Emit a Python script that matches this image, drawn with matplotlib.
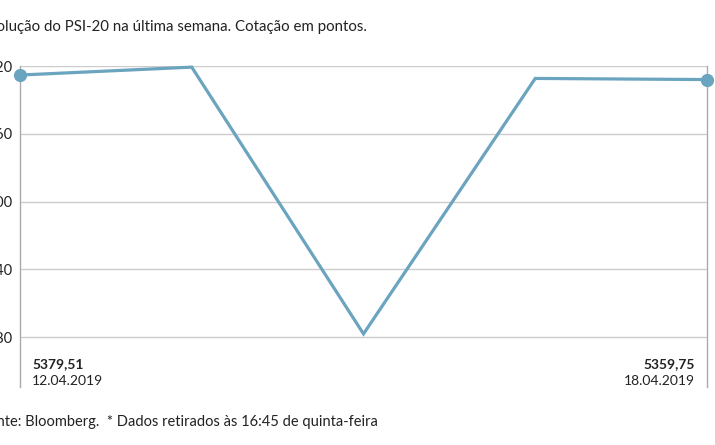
import matplotlib.pyplot as plt

plt.rcParams["font.family"] = ["Lato", "DejaVu Sans"]

# cotação PSI-20
dias = ["12.04.2019", "15.04.2019", "16.04.2019", "17.04.2019", "18.04.2019"]
valores = [5412, 5419, 5183, 5409, 5408]
ticks_y = [5180, 5240, 5300, 5360, 5420]
rotulo_ini = "5379,51"
rotulo_fim = "5359,75"

cor = "#6aa4bf"
W, H = 715, 445

fig = plt.figure(figsize=(7.15, 4.45), dpi=100)
ax = fig.add_axes([20 / W, 1 - 387 / H, 687 / W, 321 / H])

x = list(range(len(valores)))
ax.plot(x, valores, color=cor, lw=2.3, solid_joinstyle="miter", clip_on=False, zorder=3)
ax.plot([x[0], x[-1]], [valores[0], valores[-1]], "o", color=cor, ms=8.5, clip_on=False, zorder=4)

ax.set_xlim(0, len(valores) - 1)
ax.set_ylim(5136, 5420)
ax.set_yticks(ticks_y)
ax.set_yticklabels([str(t) for t in ticks_y])
ax.set_xticks([])
ax.tick_params(axis="y", length=0, pad=5.5, labelsize=10.5, labelcolor="#222222")
ax.grid(axis="y", color="#cccccc", lw=1)
ax.set_axisbelow(True)

for s in ["top", "bottom"]:
    ax.spines[s].set_visible(False)
for s in ["left", "right"]:
    ax.spines[s].set_color("#aaaaaa")
    ax.spines[s].set_linewidth(1)

# rótulos dos extremos
ax.text(12 / 687, 19 / 321, rotulo_ini, transform=ax.transAxes, fontsize=10,
        fontweight="bold", color="#222222", ha="left", va="baseline")
ax.text(12 / 687, 2 / 321, dias[0], transform=ax.transAxes, fontsize=10,
        color="#222222", ha="left", va="baseline")
ax.text(1 - 12 / 687, 19 / 321, rotulo_fim, transform=ax.transAxes, fontsize=10,
        fontweight="bold", color="#222222", ha="right", va="baseline")
ax.text(1 - 12 / 687, 2 / 321, dias[-1], transform=ax.transAxes, fontsize=10,
        color="#222222", ha="right", va="baseline")

fig.text(-20 / W, 1 - 31 / H, "Evolução do PSI-20 na última semana. Cotação em pontos.",
         fontsize=10.8, color="#222222", ha="left", va="baseline")
fig.text(-20 / W, 1 - 426 / H,
         "Fonte: Bloomberg.  * Dados retirados às 16:45 de quinta-feira",
         fontsize=10.5, color="#222222", ha="left", va="baseline")

fig.savefig("out.png", dpi=100)
